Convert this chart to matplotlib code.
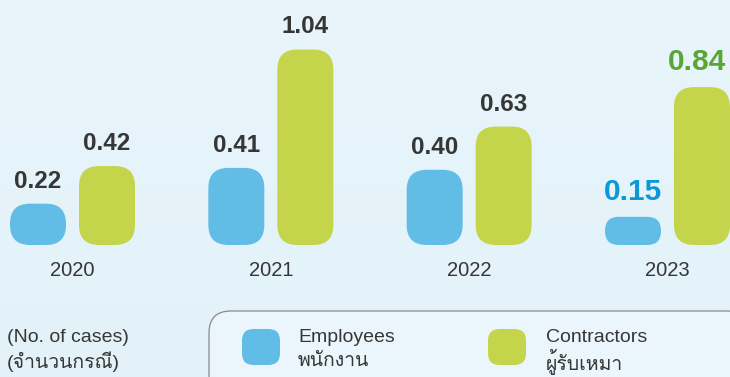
import matplotlib
matplotlib.use('Agg')
import matplotlib.pyplot as plt
import numpy as np
from matplotlib.patches import FancyBboxPatch
from matplotlib import font_manager
from matplotlib.ft2font import FT2Font

# ---- data ----
years = ['2020', '2021', '2022', '2023']
employees = [0.22, 0.41, 0.40, 0.15]
contractors = [0.42, 1.04, 0.63, 0.84]
emp_labels = ['0.22', '0.41', '0.40', '0.15']
con_labels = ['0.42', '1.04', '0.63', '0.84']
unit_en = '(No. of cases)'
unit_th = '(จำนวนกรณี)'
legend_emp = ['Employees', 'พนักงาน']
legend_con = ['Contractors', 'ผู้รับเหมา']

# ---- fonts: find one with Thai glyphs ----
thai_family = None
for f in font_manager.fontManager.ttflist:
    try:
        ft = FT2Font(f.fname)
        if ord('จ') in ft.get_charmap() and ord('ู') in ft.get_charmap():
            thai_family = f.name
            break
    except Exception:
        pass
families = ['Liberation Sans'] + ([thai_family] if thai_family else []) + ['DejaVu Sans']
plt.rcParams['font.family'] = families

# ---- colours ----
BG = '#e5f3fa'
BLUE = '#62bde6'
GREEN = '#c4d54c'
TXT = '#363636'
BLUE_TXT = '#0a98d8'
GREEN_TXT = '#5aa634'

W, H = 730, 377
fig = plt.figure(figsize=(W / 100, H / 100), dpi=100)
fig.patch.set_facecolor(BG)
ax = fig.add_axes([0, 0, 1, 1])
ax.set_facecolor('none')
ax.axis('off')

# pixel scale of the axes
px_x = 198.33     # px per group
px_y = 188.0      # px per value unit
base_px = 245     # baseline y (from top)
first_px = 72.5   # centre of first group
ax.set_xlim(-first_px / px_x, (W - first_px) / px_x)
ax.set_ylim(-(H - base_px) / px_y, base_px / px_y)

# background soft gradient
grad = np.linspace(0, 1, 256).reshape(-1, 1)
ax.imshow(grad, extent=[*ax.get_xlim(), *ax.get_ylim()], aspect='auto',
          cmap=matplotlib.colors.LinearSegmentedColormap.from_list('bg', ['#e8f5fb', '#e3f2f9']),
          origin='upper', zorder=0)

bw = 56 / px_x
off = 34.5 / px_x
ma = (1 / px_y) / (1 / px_x)
R = 20 / px_x

def rbar(xc, v, color):
    r = min(R, v / 2 / ma * 0.98, bw / 2 * 0.98)
    p = FancyBboxPatch((xc - bw / 2, 0), bw, v,
                       boxstyle=f'round,pad=0,rounding_size={r}',
                       mutation_aspect=ma, fc=color, ec='none', zorder=2)
    ax.add_patch(p)

x = np.arange(len(years))
pad = 11 / px_y
for i in x:
    last = (i == len(years) - 1)
    rbar(i - off, employees[i], BLUE)
    rbar(i + off, contractors[i], GREEN)
    ax.text(i - off, employees[i] + pad, emp_labels[i], ha='center', va='bottom',
            fontsize=21.5 if last else 17.5, fontweight='bold',
            color=BLUE_TXT if last else TXT, zorder=3)
    shift = -5 / px_x if last else 0
    ax.text(i + off + shift, contractors[i] + pad, con_labels[i], ha='center', va='bottom',
            fontsize=21.5 if last else 17.5, fontweight='bold',
            color=GREEN_TXT if last else TXT, zorder=3)
    ax.text(i, -26 / px_y, years[i], ha='center', va='center', fontsize=14.5,
            color=TXT, zorder=3)

# ---- unit text ----
def ftxt(xp, yp, s, size=14, **kw):
    fig.text(xp / W, 1 - yp / H, s, va='center', ha='left', fontsize=size,
             color=TXT, **kw)

ftxt(7, 338, unit_en)
ftxt(7, 362, unit_th)

# ---- legend box ----
box = FancyBboxPatch((209 / W, -20 / H), 540 / W, (H - 311 + 20) / H,
                     boxstyle='round,pad=0,rounding_size=0.03',
                     mutation_aspect=W / H,
                     transform=fig.transFigure, fc='#eaf6fb', ec='#8a8a8a',
                     lw=0.9, zorder=1)
fig.add_artist(box)

def swatch(x0, color):
    s = FancyBboxPatch((x0 / W, 1 - 365 / H), 38 / W, 36 / H,
                       boxstyle='round,pad=0,rounding_size=0.016',
                       mutation_aspect=W / H,
                       transform=fig.transFigure, fc=color, ec='none', zorder=2)
    fig.add_artist(s)

swatch(242, BLUE)
swatch(488, GREEN)
ftxt(298, 338, legend_emp[0])
ftxt(298, 362, legend_emp[1])
ftxt(546, 338, legend_con[0])
ftxt(546, 362, legend_con[1])

fig.savefig('out.png', dpi=100, facecolor=fig.get_facecolor())
